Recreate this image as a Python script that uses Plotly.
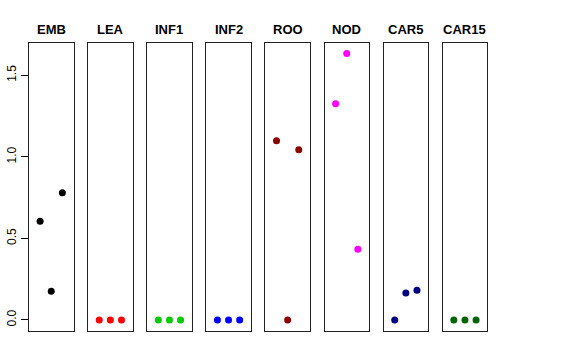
import plotly.graph_objects as go

W, H = 576, 360
categories = ["EMB", "LEA", "INF1", "INF2", "ROO", "NOD", "CAR5", "CAR15"]
colors = ["#000000", "#FF0000", "#00CD00", "#0000FF", "#8B0000", "#FF00FF", "#000080", "#006400"]
sample_pos = [1, 2, 3]
emb = [0.605, 0.176, 0.78]
lea = [0.0, 0.0, 0.0]
inf1 = [0.0, 0.0, 0.0]
inf2 = [0.0, 0.0, 0.0]
roo = [1.099, 0.0, 1.044]
nod = [1.326, 1.633, 0.433]
car5 = [0.0, 0.166, 0.182]
car15 = [0.0, 0.0, 0.0]
series = [emb, lea, inf1, inf2, roo, nod, car5, car15]
yticks = [0.0, 0.5, 1.0, 1.5]
yticklabels = ["0.0", "0.5", "1.0", "1.5"]

fig = go.Figure()
panel_w = 44.5
period = 59.1
left0 = 29.0
top_px, bot_px = 43.0, 331.0
ydom = [1 - bot_px / H, 1 - top_px / H]
ymin = -0.0675
ymax = 1.698

for i, (cat, col, vals) in enumerate(zip(categories, colors, series)):
    l = left0 + i * period
    r = l + panel_w
    xa = "xaxis" if i == 0 else f"xaxis{i+1}"
    ya = "yaxis" if i == 0 else f"yaxis{i+1}"
    xr = "x" if i == 0 else f"x{i+1}"
    yr = "y" if i == 0 else f"y{i+1}"
    fig.add_trace(go.Scatter(x=sample_pos, y=vals, mode="markers", xaxis=xr, yaxis=yr,
                             marker=dict(color=col, size=7, line=dict(width=0)),
                             showlegend=False, hoverinfo="y"))
    fig.layout[xa] = dict(domain=[l / W, r / W], range=[0, 4], showticklabels=False, ticks="",
                          showgrid=False, zeroline=False, showline=True, mirror=True,
                          linecolor="#222", linewidth=1, anchor=yr, fixedrange=True,
                          automargin=False)
    yd = dict(domain=ydom, range=[ymin, ymax], showgrid=False, zeroline=False, showline=True,
              mirror=True, linecolor="#222", linewidth=1, anchor=xr, fixedrange=True,
              automargin=False)
    if i == 0:
        yd.update(tickmode="array", tickvals=yticks, ticktext=yticklabels, ticks="outside",
                  ticklen=7, tickwidth=1, tickcolor="#000", tickangle=-90,
                  tickfont=dict(family="Liberation Sans, Arial, sans-serif", size=12, color="#000"))
    else:
        yd.update(showticklabels=False, ticks="")
    fig.layout[ya] = yd
    fig.add_annotation(x=(l + r) / 2 / W, y=1 - 29.5 / H, xref="paper", yref="paper",
                       text=f"<b>{cat}</b>", showarrow=False, xanchor="center", yanchor="middle",
                       font=dict(family="Liberation Sans, Arial, sans-serif", size=13, color="#000"))

fig.update_layout(width=W, height=H, margin=dict(l=0, r=0, t=0, b=0, autoexpand=False),
                  paper_bgcolor="white", plot_bgcolor="white")
fig.write_html("out.html", config={"displayModeBar": False},
               post_script="document.body.style.margin='0';")
